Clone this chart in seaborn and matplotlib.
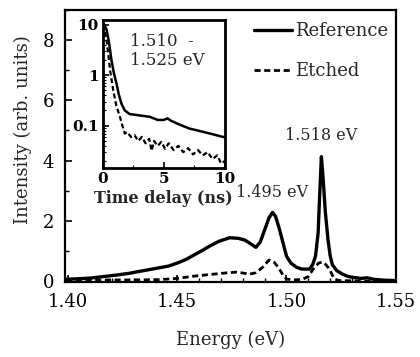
import numpy as np
import pandas as pd
import seaborn as sns
import matplotlib.pyplot as plt
from matplotlib.ticker import MultipleLocator, LogLocator, NullFormatter, FixedLocator

# PL spectra (energy in eV, intensity in arb. units)
energy_ref = [1.399, 1.405, 1.410, 1.416, 1.422, 1.428, 1.434, 1.440, 1.446, 1.450,
              1.454, 1.457, 1.461, 1.465, 1.469, 1.474, 1.478, 1.481, 1.484, 1.486,
              1.488, 1.490, 1.492, 1.4936, 1.495, 1.4968, 1.4985, 1.500, 1.502, 1.5046,
              1.507, 1.5106, 1.512, 1.5133, 1.5145, 1.5153, 1.516, 1.5168, 1.5178, 1.519,
              1.520, 1.521, 1.523, 1.5257, 1.528, 1.530, 1.534, 1.537, 1.540, 1.545, 1.5495]
int_ref = [0.06, 0.08, 0.10, 0.15, 0.20, 0.26, 0.34, 0.42, 0.50, 0.60,
           0.72, 0.84, 1.00, 1.17, 1.32, 1.44, 1.42, 1.36, 1.22, 1.12,
           1.30, 1.70, 2.10, 2.28, 2.15, 1.72, 1.25, 0.83, 0.60, 0.46,
           0.40, 0.40, 0.55, 0.83, 1.60, 3.00, 4.13, 3.40, 2.30, 1.39,
           0.85, 0.55, 0.35, 0.23, 0.16, 0.13, 0.09, 0.11, 0.06, 0.03, 0.02]

energy_etch = [1.399, 1.410, 1.420, 1.430, 1.442, 1.450, 1.457, 1.465, 1.472, 1.477,
               1.480, 1.483, 1.486, 1.489, 1.492, 1.4945, 1.4968, 1.4985, 1.500, 1.503,
               1.507, 1.510, 1.5128, 1.5148, 1.5165, 1.518, 1.5197, 1.521, 1.522, 1.524,
               1.530, 1.540, 1.5495]
int_etch = [0.03, 0.03, 0.04, 0.04, 0.05, 0.09, 0.16, 0.22, 0.27, 0.30,
            0.27, 0.23, 0.28, 0.45, 0.70, 0.62, 0.40, 0.18, 0.07, 0.04,
            0.05, 0.15, 0.46, 0.60, 0.64, 0.55, 0.40, 0.20, 0.07, 0.02,
            0.01, 0.0, 0.0]

# time-resolved decay, 1.510 - 1.525 eV window
t_ref = [0.0, 0.3, 0.5, 0.7, 0.9, 1.12, 1.3, 1.53, 1.8, 2.2, 3.0, 3.85, 4.5, 5.0,
         5.3, 5.6, 6.3, 7.1, 8.0, 9.0, 9.85, 10.0]
decay_ref = [11, 8, 4.5, 2.0, 1.1, 0.68, 0.42, 0.27, 0.20, 0.17, 0.16, 0.15, 0.13, 0.13,
             0.14, 0.125, 0.105, 0.088, 0.078, 0.068, 0.06, 0.06]

t_etch = [0.0, 0.3, 0.6, 0.85, 1.1, 1.4, 1.6, 1.8, 2.0, 2.3, 2.6, 2.9, 3.2, 3.5, 3.8,
          4.0, 4.2, 4.5, 4.8, 5.1, 5.4, 5.8, 6.2, 6.6, 7.0, 7.4, 7.8, 8.2, 8.6, 9.0,
          9.4, 9.7, 10.0]
decay_etch = [10, 5, 1.2, 0.5, 0.25, 0.15, 0.10, 0.07, 0.075, 0.06, 0.065, 0.05, 0.06,
              0.045, 0.055, 0.032, 0.05, 0.04, 0.048, 0.035, 0.045, 0.033, 0.04, 0.03,
              0.036, 0.027, 0.033, 0.026, 0.03, 0.022, 0.026, 0.018, 0.02]

sns.set_theme(style="ticks")
plt.rcParams['font.family'] = ['DejaVu Serif']
plt.rcParams['mathtext.fontset'] = 'dejavuserif'

fig = plt.figure(figsize=(4.2, 3.57), dpi=100)
ax = fig.add_axes([0.155, 0.210, 0.788, 0.762])

dash = (0, (2.2, 1.3))
sns.lineplot(x=energy_ref, y=int_ref, ax=ax, color='black', lw=2.4, label='Reference')
sns.lineplot(x=energy_etch, y=int_etch, ax=ax, color='black', lw=2.0, linestyle=dash, label='Etched')

ax.set_xlim(1.3986, 1.5502)
ax.set_ylim(-0.03, 9.0)
ax.xaxis.set_major_locator(FixedLocator([1.40, 1.45, 1.50, 1.55]))
ax.xaxis.set_major_formatter(plt.FuncFormatter(lambda v, p: f'{v:.2f}'))
ax.xaxis.set_minor_locator(MultipleLocator(0.01))
ax.yaxis.set_major_locator(MultipleLocator(2))
ax.yaxis.set_minor_locator(MultipleLocator(1))
ax.tick_params(which='both', direction='in', labelsize=13, color='black', labelcolor='black')
ax.tick_params(which='major', length=5, width=1.2, pad=8)
ax.tick_params(which='minor', length=3, width=1.0)
for s in ax.spines.values():
    s.set_linewidth(1.6)
    s.set_color('black')

ax.set_xlabel('Energy (eV)', fontsize=13)
ax.set_ylabel('Intensity (arb. units)', fontsize=13)
ax.xaxis.set_label_coords(0.5, -0.18)
ax.yaxis.set_label_coords(-0.10, 0.56)

ax.text(1.5158, 4.85, '1.518 eV', fontsize=11.5, ha='center', va='center')
ax.text(1.4935, 2.95, '1.495 eV', fontsize=11.5, ha='center', va='center')

leg = ax.legend(loc='upper right', bbox_to_anchor=(0.976, 0.955), frameon=False,
                fontsize=13, handlelength=2.1, handletextpad=0.15, labelspacing=1.2,
                borderpad=0, borderaxespad=0)

# inset: decay curves
ins = fig.add_axes([0.245, 0.529, 0.290, 0.415])
sns.lineplot(x=t_ref, y=decay_ref, ax=ins, color='black', lw=1.8)
sns.lineplot(x=t_etch, y=decay_etch, ax=ins, color='black', lw=1.6, linestyle=dash)
ins.set_yscale('log')
ins.set_xlim(0, 10)
ins.set_ylim(0.0145, 12.3)
ins.set_xticks([0, 5, 10])
ins.xaxis.set_minor_locator(FixedLocator([2.5, 7.5]))
ins.yaxis.set_major_locator(FixedLocator([0.1, 1, 10]))
ins.yaxis.set_major_formatter(plt.FuncFormatter(lambda v, p: {0.1: '0.1', 1: '1', 10: '10'}.get(round(v, 1), '')))
ins.yaxis.set_minor_locator(LogLocator(base=10, subs=np.arange(2, 10)))
ins.yaxis.set_minor_formatter(NullFormatter())
ins.tick_params(which='both', direction='in', labelsize=11, color='black', labelcolor='black')
ins.tick_params(which='major', length=4, width=1.2, pad=3)
ins.tick_params(which='minor', length=2, width=0.8)
for lab in ins.get_xticklabels() + ins.get_yticklabels():
    lab.set_fontweight('bold')
for s in ins.spines.values():
    s.set_linewidth(2.0)
    s.set_color('black')
ins.set_xlabel('Time delay (ns)', fontsize=11.5, fontweight='bold', labelpad=3)
ins.set_ylabel('')
ins.text(0.22, 0.79, '1.510  -\n1.525 eV', transform=ins.transAxes, fontsize=12,
         ha='left', va='center', linespacing=1.15)

fig.savefig('out.png', dpi=100)
